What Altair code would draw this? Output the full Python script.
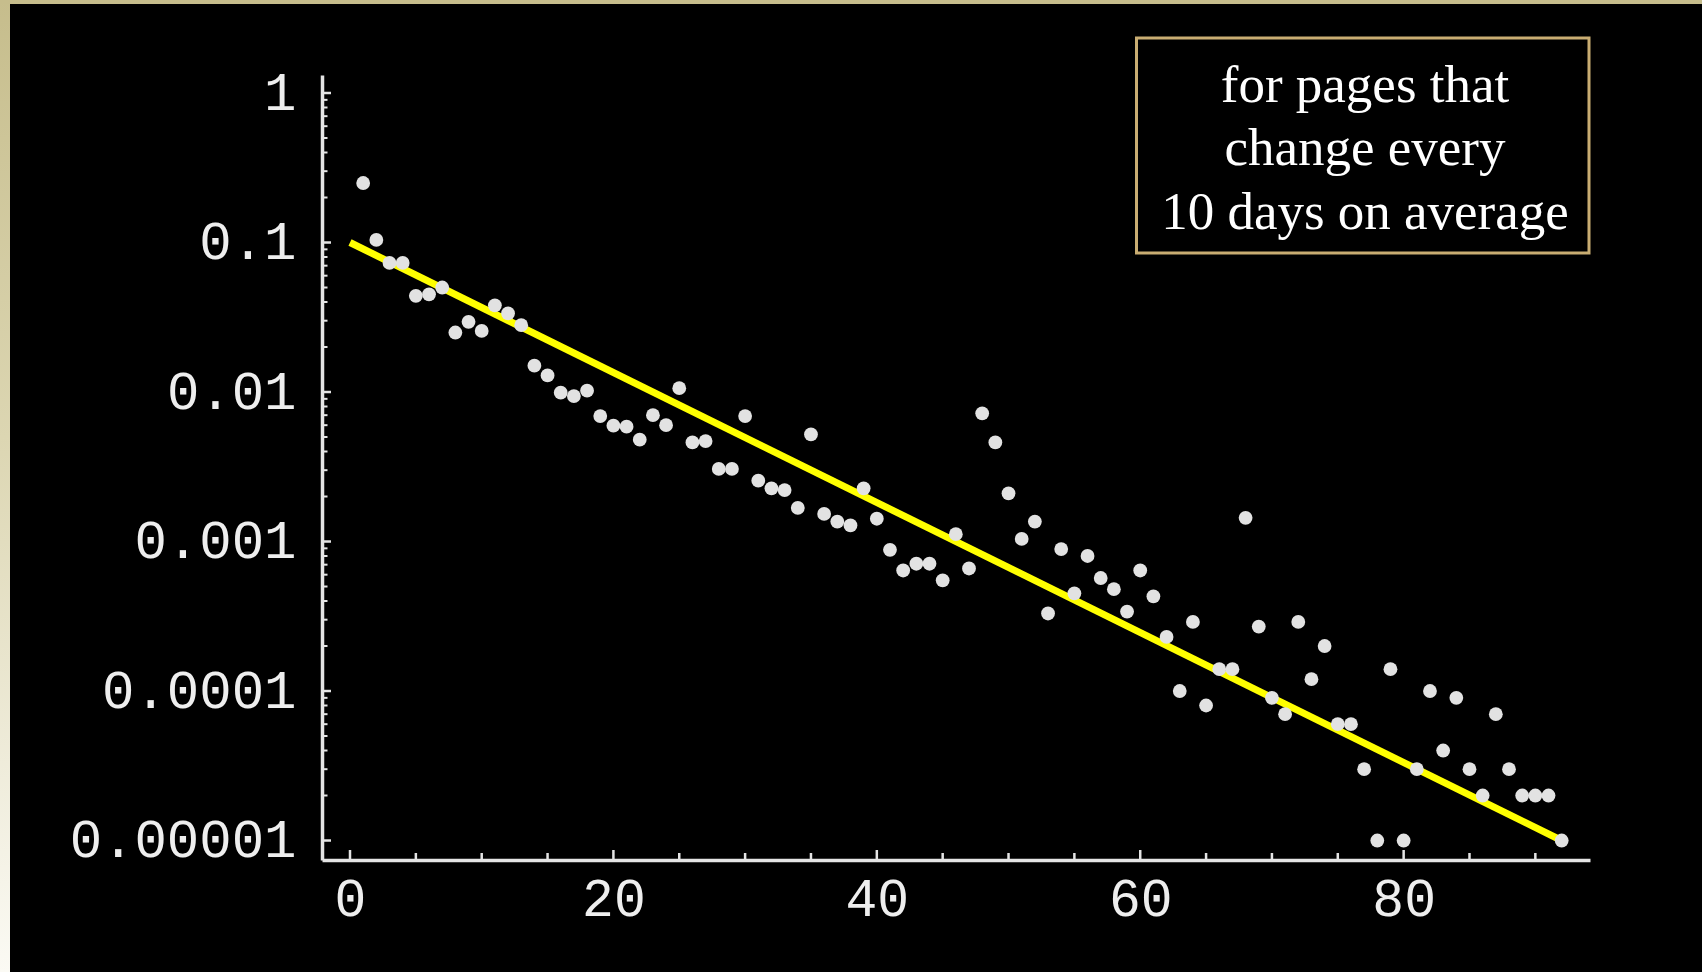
import altair as alt
import pandas as pd

# ---- data ----
days = list(range(1, 93))
fraction = [
    0.25, 0.104, 0.073, 0.073, 0.044, 0.045, 0.05, 0.025, 0.0295, 0.0256,
    0.038, 0.0336, 0.028, 0.015, 0.0129, 0.0099, 0.0094, 0.0102, 0.0069, 0.00595,
    0.00586, 0.0048, 0.0070, 0.0060, 0.0106, 0.0046, 0.0047, 0.00306, 0.00306, 0.0069,
    0.00255, 0.00227, 0.00221, 0.00168, 0.0052, 0.00153, 0.00136, 0.00128, 0.00227, 0.00142,
    0.00088, 0.00064, 0.00071, 0.00071, 0.00055, 0.00112, 0.00066, 0.0072, 0.0046, 0.0021,
    0.00104, 0.00136, 0.00033, 0.00089, 0.00045, 0.0008, 0.00057, 0.00048, 0.00034, 0.00064,
    0.00043, 0.00023, 0.0001, 0.00029, 0.00008, 0.00014, 0.00014, 0.00144, 0.00027, 0.00009,
    0.00007, 0.00029, 0.00012, 0.0002, 0.00006, 0.00006, 0.00003, 0.00001, 0.00014, 0.00001,
    0.00003, 0.0001, 0.00004, 0.00009, 0.00003, 0.00002, 0.00007, 0.00003, 0.00002, 0.00002,
    0.00002, 0.00001,
]
fit_days = [0, 92]
fit_values = [0.1, 0.00001]

x_major = [0, 20, 40, 60, 80]
x_minor = [5, 10, 15, 25, 30, 35, 45, 50, 55, 65, 70, 75, 85, 90]
y_major = [1, 0.1, 0.01, 0.001, 0.0001, 0.00001]
y_minor = [m * 10.0 ** e for e in range(-5, 0) for m in range(2, 10)]

note_lines = ["for pages that", "change every", "10 days on average"]

# ---- layout ----
W, H = 1268, 785
LEFT, TOP = 322, 75
AXIS_COLOR = "#e4e4e4"

xscale = alt.Scale(domain=[-2.126, 94.15], nice=False, zero=False)
yscale = alt.Scale(type="log", domain=[7.407e-6, 1.3196], nice=False)

xaxis = alt.Axis(values=x_major, title=None, ticks=False, tickSize=0, grid=False,
                 labelFont="Liberation Mono", labelFontSize=53, labelColor="#eeeeee",
                 labelPadding=13, labelFlush=False, labelLimit=0,
                 domainColor=AXIS_COLOR, domainWidth=3.5)
yaxis = alt.Axis(values=y_major, title=None, ticks=False, tickSize=0, grid=False,
                 labelExpr="format(datum.value, '.5~f')",
                 labelFont="Liberation Mono", labelFontSize=54, labelColor="#eeeeee",
                 labelPadding=26, labelFlush=False, labelOverlap=False, labelLimit=0,
                 domainColor=AXIS_COLOR, domainWidth=3.5)

one = pd.DataFrame({"k": [0]})
pts = pd.DataFrame({"day": days, "fraction": fraction})
fit = pd.DataFrame({"day": fit_days, "fraction": fit_values})

# decorative frame strips
left_strip = alt.Chart(one).mark_rect(
    fill=alt.LinearGradient(
        gradient="linear",
        stops=[alt.GradientStop(color="#c6bd8c", offset=0),
               alt.GradientStop(color="#dcd6b2", offset=0.45),
               alt.GradientStop(color="#fbfaf4", offset=1)],
        x1=0, x2=0, y1=0, y2=1)
).encode(x=alt.value(-LEFT), x2=alt.value(-LEFT + 10),
         y=alt.value(-TOP), y2=alt.value(972 - TOP))
top_strip = alt.Chart(one).mark_rect(fill="#c6bd8c").encode(
    x=alt.value(-LEFT), x2=alt.value(1702 - LEFT),
    y=alt.value(-TOP), y2=alt.value(-TOP + 4))

line = alt.Chart(fit).mark_line(color="#ffff00", strokeWidth=7, strokeCap="butt").encode(
    x=alt.X("day:Q", scale=xscale, axis=xaxis),
    y=alt.Y("fraction:Q", scale=yscale, axis=yaxis))

points = alt.Chart(pts).mark_circle(color="#e2e2e2", opacity=1, size=190).encode(
    x=alt.X("day:Q", scale=xscale, axis=xaxis),
    y=alt.Y("fraction:Q", scale=yscale, axis=yaxis))

xt_major = alt.Chart(pd.DataFrame({"t": x_major})).mark_rule(color=AXIS_COLOR, strokeWidth=2.5).encode(
    x=alt.X("t:Q", scale=xscale, axis=xaxis), y=alt.value(H), y2=alt.value(H - 10))
xt_minor = alt.Chart(pd.DataFrame({"t": x_minor})).mark_rule(color=AXIS_COLOR, strokeWidth=2.5).encode(
    x=alt.X("t:Q", scale=xscale, axis=xaxis), y=alt.value(H), y2=alt.value(H - 7))
yt_major = alt.Chart(pd.DataFrame({"t": y_major})).mark_rule(color=AXIS_COLOR, strokeWidth=2.5).encode(
    y=alt.Y("t:Q", scale=yscale, axis=yaxis), x=alt.value(0), x2=alt.value(9))
yt_minor = alt.Chart(pd.DataFrame({"t": y_minor})).mark_rule(color=AXIS_COLOR, strokeWidth=2).encode(
    y=alt.Y("t:Q", scale=yscale, axis=yaxis), x=alt.value(0), x2=alt.value(5.5))

box = alt.Chart(one).mark_rect(fill="#000000", stroke="#c9ad72", strokeWidth=3).encode(
    x=alt.value(814.5), x2=alt.value(1267), y=alt.value(-37), y2=alt.value(178))
note = alt.Chart(one).mark_text(
    text=note_lines, font="Liberation Serif", fontSize=53, color="#ffffff",
    align="center", baseline="alphabetic", lineHeight=63.6
).encode(x=alt.value(1043), y=alt.value(26.7))

chart = alt.layer(
    left_strip, top_strip, line, xt_major, xt_minor, yt_major, yt_minor, points, box, note
).properties(
    width=W, height=H,
    background="#000000",
    padding={"left": LEFT, "top": TOP, "right": 1702 - LEFT - W, "bottom": 972 - TOP - H},
    autosize=alt.AutoSizeParams(type="none"),
).configure_view(stroke=None)

chart.save("out.html", embed_options={"renderer": "svg", "actions": False})
